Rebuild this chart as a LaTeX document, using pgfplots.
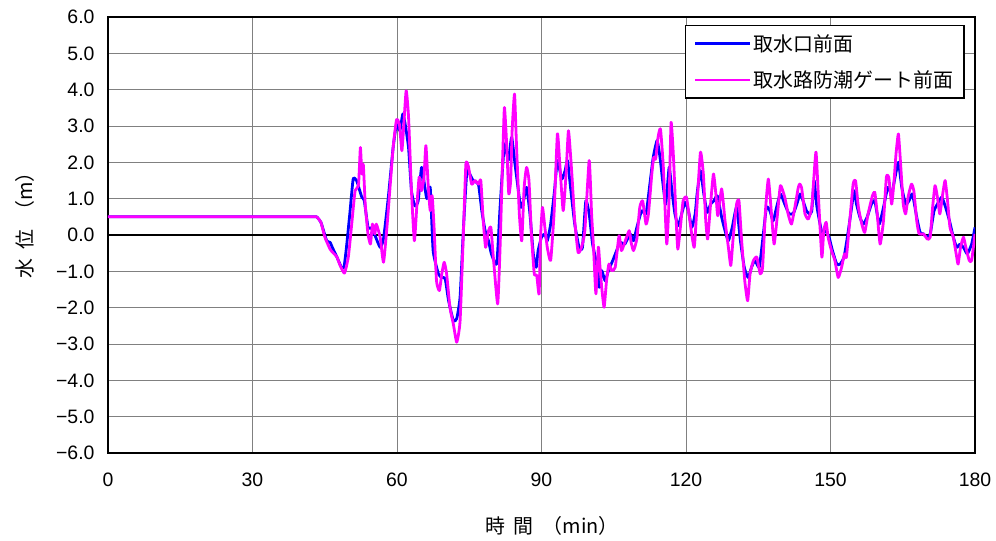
\documentclass[border=0pt]{standalone}
\usepackage{fontspec}
\setmainfont{Liberation Sans}
\newfontfamily\cjk{Noto Sans CJK JP}
\usepackage{pgfplots}
\pgfplotsset{compat=1.18}
\definecolor{gridgray}{RGB}{128,128,128}
\definecolor{serblue}{RGB}{0,0,255}
\definecolor{sermag}{RGB}{255,0,255}
\begin{document}
\begin{tikzpicture}
\begin{axis}[
  at={(0,0)}, anchor=south west,
  scale only axis, width=867bp, height=436bp,
  xmin=0, xmax=180, ymin=-6, ymax=6,
  xtick={0,30,60,90,120,150,180},
  xticklabels={0,30,60,90,120,150,180},
  ytick={-6,-5,-4,-3,-2,-1,0,1,2,3,4,5,6},
  yticklabels={−6.0,−5.0,−4.0,−3.0,−2.0,−1.0,0.0,1.0,2.0,3.0,4.0,5.0,6.0},
  extra y ticks={0}, extra y tick labels={},
  extra y tick style={major grid style={black, line width=1.2bp}},
  grid=major,
  major grid style={gridgray, line width=0.9bp},
  axis line style={line width=1.8bp},
  major tick length=0pt,
  tick style={draw=none},
  xticklabel style={font=\fontsize{19.5}{19.5}\selectfont, yshift=-16bp},
  yticklabel style={font=\fontsize{19.5}{19.5}\selectfont, xshift=-10bp},
  xlabel={\cjk 時\ \ 間\ \ （min）},
  ylabel={\cjk 水\ \ 位\ \ （m）},
  xlabel style={font=\fontsize{20}{20}\selectfont, at={(axis description cs:0.512,-0.167)}, anchor=center},
  ylabel style={font=\fontsize{20}{20}\selectfont, at={(axis description cs:-0.0957,0.534)}, anchor=center},
  legend style={at={(rel axis cs:0.988,0.982)}, anchor=north east, draw=black, line width=1.2bp,
    font=\cjk\fontsize{20}{20}\selectfont, row sep=14bp, inner xsep=9bp, inner ysep=7bp,
    cells={anchor=west}},
  legend image code/.code={\draw[#1, line width=2.6bp] (0bp,0bp) -- (55bp,0bp);},
  legend cell align=left,
]
\addplot[serblue, line width=2.8bp, line join=round, smooth, tension=0.3] coordinates {
(0,0.5) (20,0.5) (40,0.5) (42.5,0.5) (43.3,0.5) (44.2,0.35) (45.4,-0.16) (46.1,-0.2) (46.6,-0.35) (47.5,-0.6) (48.5,-0.9) (49.0,-0.88)
(49.5,-0.35) (50.2,0.58) (50.9,1.54) (51.6,1.5) (52.2,1.25) (52.7,1.04) (53.2,0.95) (54.0,0.2) (54.7,0.2)
(55.4,0.0) (56.5,-0.34) (57.2,-0.1) (58.2,1.04) (59.2,2.41) (59.9,3.05) (60.6,2.87) (61.2,3.33) (61.7,3.05)
(62.4,2.4) (63.0,1.22) (63.7,0.8) (64.4,0.94) (65.1,1.86) (65.8,1.3) (66.2,1.0) (66.9,1.3) (67.5,-0.43)
(68.6,-1.07) (69.3,-1.17) (70.0,-1.2) (70.7,-1.8) (71.7,-2.36) (72.4,-2.3) (73.1,-1.7) (73.8,0.2) (74.5,1.75)
(75.1,1.68) (75.8,1.5) (76.9,1.4) (77.6,0.67) (78.3,0.12) (79.0,-0.16) (79.6,-0.52) (80.7,-0.8) (81.4,0.76)
(82.3,2.5) (83.1,2.05) (83.8,2.69) (84.5,1.95) (85.2,1.22) (85.7,0.76) (86.2,0.9) (86.9,1.31) (87.6,0.58)
(88.3,-0.52) (88.9,-0.89) (89.3,-0.43) (90.0,-0.06) (90.7,0.03) (91.2,-0.16) (91.9,0.3) (92.7,1.22) (93.3,2.05)
(94.2,1.54) (94.9,1.77) (95.4,2.05) (96.1,1.22) (96.9,0.3) (97.8,-0.34) (98.5,-0.34) (99.2,0.94) (99.9,0.58)
(100.6,-0.25) (101.3,-0.7) (102.0,-1.44) (102.5,-0.98) (103.2,-1.26) (103.9,-0.98) (104.8,-0.7) (105.6,-0.43)
(106.3,-0.2) (107.3,-0.25) (108.4,0.03) (109.1,-0.16) (109.8,0.21) (110.8,0.67) (111.7,0.58) (112.5,1.4)
(113.2,2.14) (114.0,2.6) (114.6,2.14) (115.3,1.31) (115.8,0.85) (116.5,1.86) (117.0,1.31) (117.7,0.58)
(118.4,0.26) (119.1,0.58) (119.8,0.9) (120.5,0.67) (121.2,0.21) (121.9,0.58) (122.3,1.13) (123.0,1.77)
(123.7,1.13) (124.4,0.62) (125.1,0.85) (125.8,0.94) (126.5,1.08) (127.4,0.49) (128.1,0.12) (128.8,-0.16)
(129.6,0.21) (130.5,0.76) (131.3,-0.16) (132.1,-0.89) (132.9,-1.17) (133.6,-0.89) (134.3,-0.7) (135.2,-0.89)
(135.9,-0.16) (136.7,0.76) (137.4,0.67) (138.1,0.39) (138.8,0.76) (139.6,1.13) (140.5,0.85) (141.4,0.58)
(142.3,0.6) (143.0,0.85) (143.7,1.13) (144.3,0.94) (145.0,0.67) (145.6,0.58) (146.1,0.65) (146.6,1.5)
(147.1,0.85) (147.7,0.39) (148.3,0.03) (149.0,0.12) (149.7,-0.06) (150.4,-0.43) (151.3,-0.8) (152.0,-0.8)
(152.8,-0.61) (153.5,-0.06) (154.2,0.58) (154.9,1.22) (155.4,0.85) (156.1,0.49) (156.8,0.3) (157.6,0.49)
(158.5,0.85) (159.2,0.94) (160.1,0.3) (161.0,0.76) (161.9,1.31) (162.7,1.13) (163.4,1.59) (164.1,2.0)
(164.8,1.31) (165.6,0.85) (166.3,0.94) (167.0,1.13) (167.9,0.49) (168.6,0.07) (169.3,0.03) (170.0,-0.06)
(170.7,0.03) (171.5,0.67) (172.2,0.85) (173.1,1.04) (173.9,0.76) (174.7,0.39) (175.5,-0.06) (176.2,-0.34)
(176.9,-0.25) (177.6,-0.34) (178.4,-0.52) (179.3,-0.25) (180,0.21)
};
\addlegendentry{取水口前面}
\addplot[sermag, line width=2.8bp, line join=round, smooth, tension=0.3] coordinates {
(0,0.5) (20,0.5) (40,0.5) (42.5,0.5) (43.3,0.5) (44.2,0.35) (45.0,-0.05) (46.1,-0.39) (46.8,-0.5) (47.5,-0.6) (48.2,-0.84) (49.1,-1.05)
(49.9,-0.6) (50.6,0.3) (51.3,1.22) (52.0,1.36) (52.4,2.41) (52.7,1.68) (53.0,1.95) (53.4,0.85) (53.7,0.4)
(54.0,0.0) (54.5,-0.25) (54.9,0.3) (55.4,0.03) (55.7,0.3) (56.5,-0.06) (57.2,-0.75) (57.9,0.2) (58.5,1.22)
(59.2,2.41) (59.9,3.17) (60.5,3.05) (61.0,2.32) (61.3,2.8) (61.9,3.97) (62.4,3.24) (63.0,1.22) (63.6,-0.16)
(64.1,0.76) (64.6,1.59) (65.1,1.22) (65.6,1.59) (66.0,2.46) (66.5,1.31) (66.9,0.67) (67.3,1.08) (67.7,0.2)
(68.2,-1.26) (68.8,-1.53) (69.3,-1.07) (69.8,-0.75) (70.3,-1.07) (71.0,-2.0) (71.7,-2.45) (72.4,-2.95)
(73.1,-2.36) (73.8,0.12) (74.3,1.95) (74.8,1.9) (75.5,1.4) (76.2,1.5) (76.9,1.4) (77.4,1.5) (77.9,0.4)
(78.4,-0.34) (79.0,0.12) (79.5,0.2) (80.0,-0.61) (80.9,-1.9) (81.4,-0.34) (81.9,1.95) (82.3,3.51) (82.8,2.41)
(83.2,1.13) (83.6,1.5) (83.9,2.87) (84.4,3.88) (84.8,2.5) (85.4,0.58) (85.9,-0.16) (86.4,1.31) (86.9,1.86)
(87.4,1.5) (87.9,0.03) (88.5,-1.07) (89.0,-1.1) (89.5,-1.62) (89.8,-0.06) (90.2,0.76) (90.7,0.21) (91.2,-0.34)
(91.9,-0.7) (92.6,0.58) (93.3,2.78) (93.8,1.95) (94.5,0.67) (95.1,1.68) (95.6,2.87) (96.3,1.68) (96.9,0.39)
(97.6,-0.48) (98.3,-0.34) (99.0,0.12) (99.9,2.05) (100.4,0.58) (100.8,-0.34) (101.3,-1.62) (101.8,-0.34)
(102.1,-0.8) (102.5,-1.44) (103.0,-1.99) (103.5,-1.26) (104.0,-0.8) (104.6,-0.98) (105.3,-0.89) (106.1,-0.02)
(106.6,-0.43) (107.3,-0.2) (108.2,0.12) (108.6,-0.2) (109.1,-0.43) (109.8,-0.1) (110.4,0.76) (111.0,0.94)
(111.7,0.3) (112.2,0.58) (112.9,1.68) (113.3,2.14) (113.7,2.09) (114.2,2.69) (114.7,2.92) (115.3,1.86)
(116.0,-0.25) (116.5,1.04) (116.9,3.1) (117.4,2.14) (117.9,0.58) (118.3,-0.39) (118.9,0.3) (119.4,0.94)
(120.1,1.04) (120.8,0.39) (121.7,-0.34) (122.3,0.85) (123.0,2.28) (123.6,1.68) (124.1,0.39) (124.5,-0.11)
(125.1,0.85) (125.7,1.68) (126.2,1.13) (126.6,0.53) (127.4,1.27) (128.1,0.39) (128.8,-0.34) (129.3,-0.84)
(129.8,-0.06) (130.5,0.85) (131.0,0.94) (131.5,-0.06) (132.2,-1.26) (132.8,-1.81) (133.3,-1.07) (134.0,-0.7)
(134.7,-0.61) (135.4,-1.07) (135.9,-0.89) (136.5,0.67) (137.1,1.54) (137.8,0.49) (138.3,-0.25) (139.0,0.58)
(139.6,1.36) (140.5,1.04) (141.2,0.58) (141.9,0.3) (142.6,0.76) (143.3,1.3) (143.6,1.4) (144.0,1.3)
(144.7,0.58) (145.4,0.44) (146.1,0.76) (146.6,1.68) (147.0,2.28) (147.5,1.04) (148.2,-0.61) (148.6,0.12)
(149.1,0.35) (149.5,-0.06) (150.2,-0.43) (150.9,-0.7) (151.6,-1.17) (152.3,-0.89) (152.9,-0.52) (153.3,-0.61)
(154.0,0.39) (154.7,1.4) (155.2,1.5) (155.8,0.76) (156.5,0.3) (157.1,0.07) (157.8,0.58) (158.7,1.08)
(159.2,1.17) (159.7,0.58) (160.3,-0.25) (161.0,0.39) (161.6,1.59) (162.1,1.59) (162.7,0.85) (163.2,1.5)
(163.6,2.23) (164.1,2.78) (164.6,1.86) (165.1,0.85) (165.6,0.58) (166.1,1.04) (166.8,1.4) (167.3,1.22)
(167.9,0.39) (168.4,0.03) (169.3,0.03) (170.1,-0.11) (170.7,-0.06) (171.2,0.76) (171.7,1.36) (172.2,1.04)
(172.7,0.58) (173.3,1.13) (173.8,1.5) (174.3,0.94) (174.8,0.21) (175.5,-0.06) (176.2,-0.61) (176.5,-0.8)
(177.0,-0.34) (177.6,-0.06) (178.1,-0.34) (178.8,-0.7) (179.3,-0.7) (180,0.03)
};
\addlegendentry{取水路防潮ゲート前面}
\end{axis}
\pgfresetboundingbox
\path (-108bp,-88bp) rectangle (888bp,453bp);
\end{tikzpicture}
\end{document}
